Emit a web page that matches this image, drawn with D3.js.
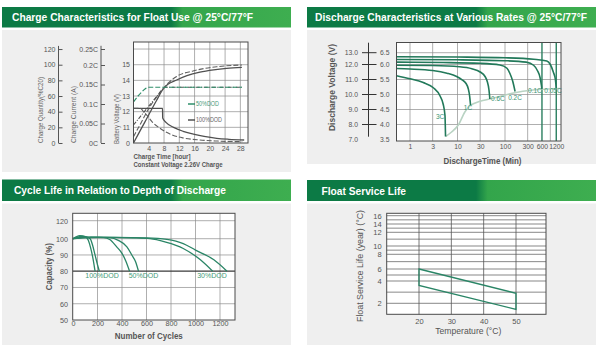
<!DOCTYPE html>
<html><head><meta charset="utf-8">
<script src="https://cdn.jsdelivr.net/npm/d3@7"></script>
<style>body{margin:0;background:#fff}svg{display:block}</style>
</head><body>
<script>
// ---------- Panel 1: charge characteristics ----------
const p1HourTicks=[4,8,12,16,20,24,28];
const p1QtyTicks=[0,20,40,60,80,100,120];
const p1CurTicks=[0,0.05,0.1,0.15,0.2,0.25];
const p1CurLabels=["0C","0.05C","0.1C","0.15C","0.2C","0.25C"];
const p1VoltTicks=[0,11,12,13,14,15];
const qty100=[[0,0],[3,27],[6,54],[7.8,69],[9,75],[11.3,80.5],[14,86],[17.4,90.5],[21,93.5],[24.4,95.4],[28.4,96.7]];
const qty50=[[0,8],[2,26],[4,44],[6.9,64],[9,76],[11.3,85],[15.6,92],[21.8,97.4],[28.4,99.6]];
const volt100=[[0,11.15],[2,11.75],[4,12.35],[6,12.95],[7.5,13.4],[8.2,13.56],[28.4,13.56]];
const volt50=[[0,12.63],[1,12.95],[2,13.22],[3,13.45],[3.9,13.56],[28.4,13.56]];
const cur100=[[0,0.089],[7.6,0.089],[7.65,0.064],[8.5,0.053],[10.5,0.04],[13,0.03],[15.7,0.023],[18.5,0.017],[21.8,0.012],[25,0.0095],[29,0.0077]];
const cur50=[[0,0.089],[1.8,0.089],[2.5,0.082],[3.6,0.07],[5,0.053],[6.9,0.038],[8.5,0.028],[10.3,0.02],[13,0.013],[17.4,0.0077],[22,0.005],[28.5,0.0033]];
const p1Legend=["50%DOD","100%DOD"];

// ---------- Panel 2: discharge characteristics ----------
const p2TimeTicks=[1,3,10,30,100,300,600,1200];
const p2VoltTicks=[7,8,9,10,11,12,13];
const p2VoltLabels12=["7.0","8.0","9.0","10.0","11.0","12.0","13.0"];
const p2VoltLabels6=["3.5","4.0","4.5","5.0","5.5","6.0","6.5"];
const rateNames=["3C","1C","0.6C","0.2C","0.1C","0.05C"];
const rate3C=[[0.52,11.25],[1,11.05],[1.9,10.8],[3.1,10.45],[4.3,9.9],[5.0,9.35],[5.45,8.6],[5.6,7.2]];
const rate1C=[[0.52,11.73],[1,11.7],[3,11.6],[6,11.42],[9.6,11.2],[12.5,10.98],[15,10.75],[16.8,10.4],[18,9.9],[18.8,9.3]];
const rate06C=[[0.52,11.95],[3,11.93],[11,11.85],[20,11.72],[30,11.5],[38,11.2],[42,10.9],[46,10.3],[48,9.7]];
const rate02C=[[0.52,12.2],[5,12.17],[30,12.1],[78,11.97],[110,11.75],[127,11.4],[145,10.9],[163,10.2]];
const rate01C=[[0.52,12.43],[10,12.4],[100,12.32],[280,12.2],[400,11.95],[480,11.6],[550,11.1],[585,10.6],[598,10.35]];
const rate005C=[[0.52,12.66],[10,12.63],[100,12.57],[400,12.45],[760,12.3],[900,12.0],[1040,11.5],[1150,11.0],[1205,10.4]];
const endVolt=[[5.6,7.2],[7.5,7.5],[10.4,7.97],[14.4,8.85],[18.4,9.25],[30,9.55],[48,9.7],[150,10.1],[390,10.3],[1430,10.4]];
const rateLabelAt=[[4.3,8.55],[16.6,9.15],[71,9.7],[163,9.8],[427,10.25],[1025,10.25]];

// ---------- Panel 3: cycle life ----------
const p3CycleTicks=[0,200,400,600,800,1000,1200];
const p3CapTicks=[50,60,70,80,90,100,120];
const dod100a=[[0,100],[25,102],[55,103.5],[80,103.2],[105,102],[125,99],[145,94],[165,87],[180,80]];
const dod100b=[[0,100],[30,101.5],[70,102.6],[110,102],[140,100],[160,96],[180,90],[200,84],[215,80]];
const dod50a=[[0,100],[60,101.5],[150,101.8],[250,101.3],[300,99.5],[357,95],[400,91],[430,86.5],[462,80]];
const dod50b=[[0,100],[80,101.5],[200,101.8],[300,101.2],[370,99],[440,95],[480,90],[510,86],[535,80]];
const dod30a=[[0,100],[100,101.3],[300,101.5],[500,101],[630,100],[750,98],[900,94],[1040,87],[1140,80]];
const dod30b=[[0,100],[120,101.3],[350,101.5],[600,101],[766,99.6],[900,97],[1000,93],[1150,87],[1257,80]];
const dodLabels=["100%DOD","50%DOD","30%DOD"];
const dodLabelAt=[[237,77.2],[575,77.2],[1134,77.2]];

// ---------- Panel 4: float service life ----------
const p4TempTicks=[20,30,40,50];
const p4LifeTicks=[2,4,6,8,10,12,14,16];
const lifeUpper=[[20,6],[50,2.9]];
const lifeLower=[[20,3.6],[50,1.45]];

// ================= drawing =================
const FONT="'Liberation Sans', Arial, sans-serif";
const svg=d3.select('body').append('svg').attr('width',600).attr('height',347);
const defs=svg.append('defs');
const grad=defs.append('linearGradient').attr('id','hdr').attr('x1',0).attr('x2',1).attr('y1',0).attr('y2',0);
[[0,'#0c7a45'],[0.585,'#0c7a45'],[0.625,'#33a54b'],[1,'#3eae50']].forEach(([o,c])=>grad.append('stop').attr('offset',o).attr('stop-color',c));

function panel(x,y,w,hh,bodyY,bodyH,title,tx,tlen){
  svg.append('rect').attr('x',x).attr('y',bodyY).attr('width',w).attr('height',bodyH).attr('fill','#efefef');
  svg.append('rect').attr('x',x).attr('y',y).attr('width',w).attr('height',hh).attr('fill','url(#hdr)');
  svg.append('text').attr('x',tx).attr('y',y+hh/2+4).attr('fill','#fff').attr('font-family',FONT)
    .attr('font-weight','bold').attr('font-size',10.5).attr('textLength',tlen).attr('lengthAdjust','spacingAndGlyphs').text(title);
}
panel(2,7,289,20.5,30,142,"Charge Characteristics for Float Use @ 25°C/77°F",12,241);
panel(307,7,289,20.5,30,134,"Discharge Characteristics at Various Rates @ 25°C/77°F",315,272);
panel(2,179.5,289,21.5,203.5,141.5,"Cycle  Life in Relation to Depth of Discharge",14,212);
panel(307,180,289,21,203.5,141.5,"Float Service Life",321.5,84.5);

function txt(g,x,y,s,o={}){
  const t=g.append('text').attr('x',x).attr('y',y).attr('font-family',FONT).attr('font-size',o.size||7)
    .attr('fill',o.fill||'#555').attr('text-anchor',o.anchor||'start').text(s);
  if(o.len) t.attr('textLength',o.len).attr('lengthAdjust','spacingAndGlyphs');
  if(o.weight) t.attr('font-weight',o.weight);
  if(o.rot) t.attr('transform',`rotate(-90,${x},${y})`);
  return t;
}
function box(g,x0,y0,x1,y1){
  g.append('rect').attr('x',x0).attr('y',y0).attr('width',x1-x0).attr('height',y1-y0).attr('fill','#fff');
}
function border(g,x0,y0,x1,y1){
  g.append('rect').attr('x',x0).attr('y',y0).attr('width',x1-x0).attr('height',y1-y0).attr('fill','none').attr('stroke','#4a4a4a').attr('stroke-width',1);
}
function hgrid(g,vals,ys,x0,x1,stroke='#8c8c8c',sw=0.7){
  g.append('g').selectAll('line').data(vals).join('line').attr('x1',x0).attr('x2',x1)
    .attr('y1',d=>ys(d)).attr('y2',d=>ys(d)).attr('stroke',stroke).attr('stroke-width',sw);
}
function vgrid(g,vals,xs,y0,y1,stroke='#8c8c8c',sw=0.7){
  g.append('g').selectAll('line').data(vals).join('line').attr('y1',y0).attr('y2',y1)
    .attr('x1',d=>xs(d)).attr('x2',d=>xs(d)).attr('stroke',stroke).attr('stroke-width',sw);
}
function styleAxis(a,size=7){a.attr('font-family',FONT).attr('font-size',size).attr('color','#555');a.select('.domain').remove();return a;}

// ---- Panel 1 ----
{
  const g=svg.append('g');
  const X0=133.5,X1=248,Y0=42,Y1=143;
  const x=d3.scaleLinear([0,30],[X0,X1]);
  const yQ=d3.scaleLinear([0,129],[Y1,Y0]);
  const yC=d3.scaleLinear([0,0.2,0.25],[Y1,65,49]);
  const yV=d3.scaleLinear([0,11,15],[Y1,yQ(20),yQ(100)]);
  box(g,X0,Y0,X1,Y1);
  hgrid(g,p1QtyTicks.filter(d=>d>0),yQ,X0,X1);
  vgrid(g,p1HourTicks,x,Y0,Y1);
  const aq=styleAxis(g.append('g').attr('transform','translate(58.5,0)')
    .call(d3.axisLeft(yQ).tickValues(p1QtyTicks).tickSizeInner(-4).tickSizeOuter(0).tickPadding(3)));
  aq.append('line').attr('x1',0).attr('x2',0).attr('y1',yQ(0)).attr('y2',yQ(124)).attr('stroke','#555');
  const ac=styleAxis(g.append('g').attr('transform','translate(101,0)')
    .call(d3.axisLeft(yC).tickValues(p1CurTicks).tickFormat((d,i)=>p1CurLabels[i]).tickSizeInner(-4).tickSizeOuter(0).tickPadding(3)));
  ac.append('line').attr('x1',0).attr('x2',0).attr('y1',yC(0)).attr('y2',yC(0.26)).attr('stroke','#555');
  styleAxis(g.append('g').attr('transform',`translate(${X0},0)`)
    .call(d3.axisLeft(yV).tickValues(p1VoltTicks).tickSize(0).tickPadding(3.5)));
  styleAxis(g.append('g').attr('transform',`translate(0,${Y1})`)
    .call(d3.axisBottom(x).tickValues(p1HourTicks).tickSize(0).tickPadding(3)));
  const GRAY='#505050', GREEN='#2f8f6a';
  const mk=(ys)=>d3.line().x(d=>x(d[0])).y(d=>ys(d[1])).curve(d3.curveMonotoneX);
  const curves=[
    [qty100,yQ,GRAY,null,1.3],[qty50,yQ,'#606060','5,2',1.1],
    [volt100,yV,GRAY,'4,1.5,1,1.5',1.1],[volt50,yV,GREEN,'5,2',1.2],
    [cur100,yC,GRAY,null,1.3],[cur50,yC,'#606060','5,2',1.1]];
  curves.forEach(([d,ys,c,da,w])=>{
    const p=g.append('path').attr('d',mk(ys)(d)).attr('fill','none').attr('stroke',c).attr('stroke-width',w);
    if(da)p.attr('stroke-dasharray',da);
  });
  border(g,X0,Y0,X1,Y1);
  [[GREEN,104],[GRAY,120]].forEach(([c,yy],i)=>{
    g.append('line').attr('x1',188).attr('x2',195).attr('y1',yy).attr('y2',yy).attr('stroke',c).attr('stroke-width',1.5);
    txt(g,196,yy+2.3,p1Legend[i],{size:6.5,fill:i?'#666':'#4a9a78',len:i?26:23});
  });
  txt(g,41+2.2,143,"Charge Quantity(%C20)",{size:6.5,rot:true,len:66,fill:'#666'});
  txt(g,74+2.2,143,"Charge Current (A)",{size:6.5,rot:true,len:57,fill:'#666'});
  txt(g,117+2.2,144,"Battery Voltage (V)",{size:6.5,rot:true,len:50,fill:'#666'});
  txt(g,X0,159,"Charge Time [hour]",{size:7.5,len:57,fill:'#555',weight:'bold'});
  txt(g,X0,166.5,"Constant Voltage 2.26V Charge",{size:7.5,len:89,fill:'#555',weight:'bold'});
}

// ---- Panel 2 ----
{
  const g=svg.append('g');
  const X0=396.5,X1=561,Y0=42.5,Y1=141;
  const x=d3.scaleLog([1,1000],[410,552.5]);
  const y=d3.scaleLinear([7,12,13],[139.5,64.5,52.7]);
  box(g,X0,Y0,X1,Y1);
  hgrid(g,p2VoltTicks.filter(d=>d>7),y,X0,X1);
  vgrid(g,p2TimeTicks.filter(d=>d<600).concat([900]),x,Y0,Y1);
  vgrid(g,[600,1200],x,Y0,Y1,'#2a7f5f',1.4);
  g.append('line').attr('x1',368.5).attr('x2',368.5).attr('y1',42.7).attr('y2',136.7).attr('stroke','#333').attr('stroke-width',1);
  g.append('g').selectAll('line').data(p2VoltTicks.filter(d=>d>7)).join('line')
    .attr('x1',362).attr('x2',376.5).attr('y1',d=>y(d)).attr('y2',d=>y(d)).attr('stroke','#333').attr('stroke-width',1);
  p2VoltTicks.forEach((v,i)=>{
    txt(g,358,y(v)+2.4,p2VoltLabels12[i],{size:6.8,anchor:'end'});
    txt(g,380,y(v)+2.4,p2VoltLabels6[i],{size:6.8});
  });
  styleAxis(g.append('g').attr('transform',`translate(0,${Y1})`)
    .call(d3.axisBottom(x).tickValues(p2TimeTicks).tickFormat(d3.format('d')).tickSize(0).tickPadding(3)),6.8);
  const line=d3.line().x(d=>x(d[0])).y(d=>y(d[1])).curve(d3.curveMonotoneX);
  g.append('path').attr('d',line(endVolt)).attr('fill','none').attr('stroke','#b9d3c3').attr('stroke-width',1.6);
  [rate3C,rate1C,rate06C,rate02C,rate01C,rate005C].forEach(d=>{
    g.append('path').attr('d',line(d)).attr('fill','none').attr('stroke','#22795a').attr('stroke-width',1.6);
  });
  rateLabelAt.forEach((p,i)=>txt(g,x(p[0]),y(p[1])+2.3,rateNames[i],{size:6.5,anchor:'middle',fill:'#3a9373'}));
  border(g,X0,Y0,X1,Y1);
  txt(g,331.7+3.5,87.5,"Discharge Voltage (V)",{size:9.5,rot:true,anchor:'middle',len:87,fill:'#555',weight:'bold'});
  txt(g,482.5,163.5,"DischargeTime (Min)",{size:9.5,anchor:'middle',len:78,fill:'#555',weight:'bold'});
}

// ---- Panel 3 ----
{
  const g=svg.append('g');
  const X0=72.7,X1=235,Y0=213.3,Y1=320;
  const x=d3.scaleLinear([0,1200],[73,220]);
  const y=d3.scaleLinear([50,100,120],[Y1,238.7,220.7]);
  box(g,X0,Y0,X1,Y1);
  hgrid(g,p3CapTicks.filter(d=>d>50&&d!==80),y,X0,X1);
  vgrid(g,p3CycleTicks.filter(d=>d>0),x,Y0,Y1);
  hgrid(g,[80],y,X0,X1,'#3a3a3a',1.3);
  styleAxis(g.append('g').attr('transform',`translate(${X0},0)`)
    .call(d3.axisLeft(y).tickValues(p3CapTicks).tickSize(0).tickPadding(4.7)),7.2);
  styleAxis(g.append('g').attr('transform',`translate(0,${Y1})`)
    .call(d3.axisBottom(x).tickValues(p3CycleTicks).tickFormat(d3.format('d')).tickSize(0).tickPadding(0.8)),7.2);
  const line=d3.line().x(d=>x(d[0])).y(d=>y(d[1])).curve(d3.curveMonotoneX);
  [dod100a,dod100b,dod50a,dod50b,dod30a,dod30b].forEach(d=>{
    g.append('path').attr('d',line(d)).attr('fill','none').attr('stroke','#2a8566').attr('stroke-width',1.3);
  });
  dodLabels.forEach((s,i)=>txt(g,x(dodLabelAt[i][0]),y(dodLabelAt[i][1])+2.5,s,{size:7,anchor:'middle',fill:'#3f9a76'}));
  border(g,X0,Y0,X1,Y1);
  txt(g,48.3+3.5,266.7,"Capacity (%)",{size:9.5,rot:true,anchor:'middle',len:47,fill:'#555',weight:'bold'});
  txt(g,148.8,339,"Number of Cycles",{size:9.5,anchor:'middle',len:68,fill:'#555',weight:'bold'});
}

// ---- Panel 4 ----
{
  const g=svg.append('g');
  const X0=386.7,X1=546,Y0=213.3,Y1=314.3;
  const x=d3.scaleLinear([20,50],[419,516]);
  const y=d3.scaleLinear([1,2,4,6,8,10,12,14,16],[Y1,303.3,281,269,254.3,246,232.3,224,215.7]);
  box(g,X0,Y0,X1,Y1);
  hgrid(g,d3.range(2,17),y,X0,X1,'#555',0.7);
  vgrid(g,p4TempTicks,x,Y0,Y1,'#555',0.8);
  styleAxis(g.append('g').attr('transform',`translate(${X0},0)`)
    .call(d3.axisLeft(y).tickValues(p4LifeTicks).tickSize(0).tickPadding(5)),7.5);
  styleAxis(g.append('g').attr('transform',`translate(0,${Y1})`)
    .call(d3.axisBottom(x).tickValues(p4TempTicks).tickSize(0).tickPadding(4.4)),7.5);
  const poly=lifeUpper.concat(lifeLower.slice().reverse());
  g.append('path').attr('d',d3.line().x(d=>x(d[0])).y(d=>y(d[1]))(poly)+'Z')
    .attr('fill','none').attr('stroke','#2a8566').attr('stroke-width',1.3);
  border(g,X0,Y0,X1,Y1);
  txt(g,359.3+3.5,266,"Float Service Life (year) (°C)",{size:9.5,rot:true,anchor:'middle',len:112,fill:'#555'});
  txt(g,468.3,334,"Temperature (°C)",{size:9.5,anchor:'middle',len:66,fill:'#555'});
}
</script></body></html>
